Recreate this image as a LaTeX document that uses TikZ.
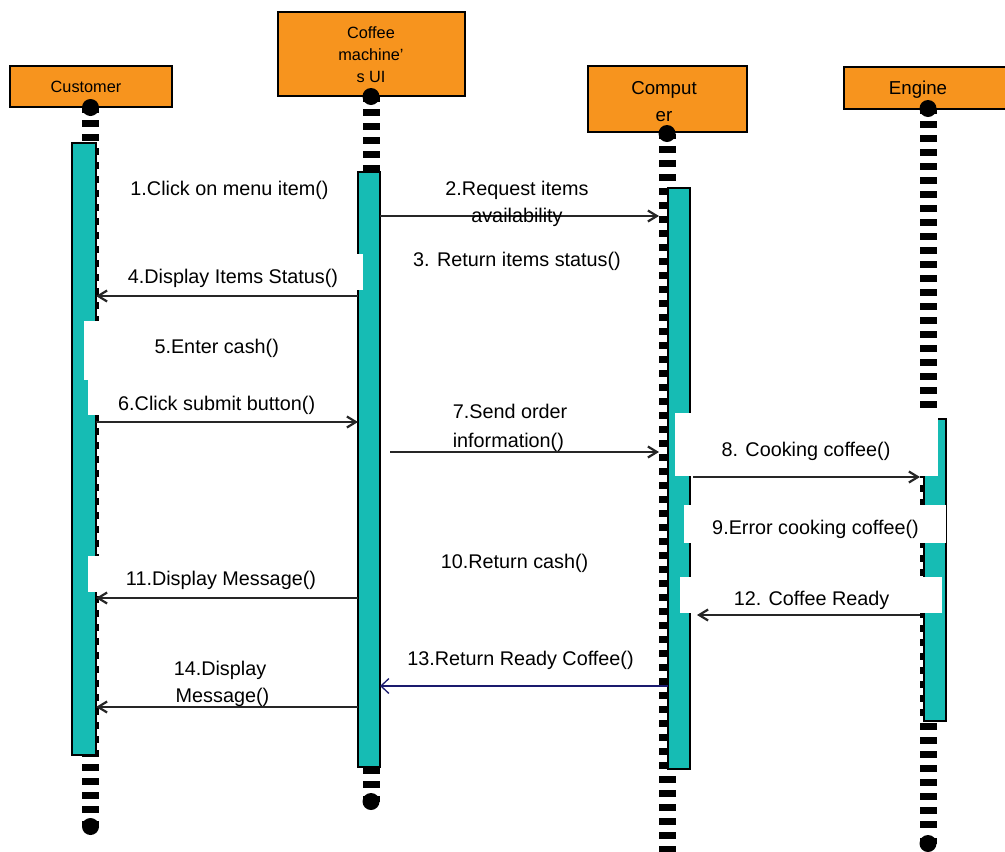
\documentclass[tikz,border=0pt]{standalone}
\usepackage{fontspec}
\setmainfont{Liberation Sans}
\usetikzlibrary{arrows.meta}
\definecolor{hdrc}{RGB}{247,148,30}
\definecolor{actc}{RGB}{22,188,180}
\definecolor{navyc}{RGB}{26,26,110}
\newcommand\lifeln[3]{%
  \fill (#1,#2+8.5) circle[radius=8.5pt];
  \fill (#1-8.5,#2+8.5) rectangle (#1+8.5,#2+14);
  \draw[line width=17pt, dash pattern=on 7pt off 7pt] (#1,#2+21) -- (#1,#3-21);
  \fill (#1,#3-8.5) circle[radius=8.5pt];
  \fill (#1-8.5,#3-14) rectangle (#1+8.5,#3-8.5);
}
\tikzset{
  hdrbox/.style={draw=black, line width=1.3pt, fill=hdrc, inner sep=0pt, outer sep=0pt},
  actbar/.style={draw=black, line width=1.1pt, fill=actc, inner sep=0pt, outer sep=0pt, minimum width=22pt},
  msgtxt/.style={font=\fontsize{19.8}{27}\selectfont, inner sep=0pt, anchor=base},
  hdrsmall/.style={font=\fontsize{16.3}{22}\selectfont, inner sep=0pt, anchor=base},
  hdrbig/.style={font=\fontsize{18.7}{26}\selectfont, inner sep=0pt, anchor=base},
  msg/.style={draw=black!85, line width=1.1pt, -{Straight Barb[length=9pt,width=11pt,line width=2.2pt 0]}},
  retmsg/.style={draw=navyc, line width=1.3pt, -{Straight Barb[length=8pt,width=15pt,line width=1.3pt 0]}},
  cover/.style={fill=white}
}
\begin{document}
\begin{tikzpicture}[x=1pt,y=-1pt]
\useasboundingbox (0,0) rectangle (1005,852);
\begin{scope}
\clip (0,0) rectangle (1005,852);
% header boxes
\node[hdrbox, minimum width=162pt, minimum height=41pt] (custH) at (91,86.5) {};
\node[hdrbox, minimum width=187pt, minimum height=84pt] (uiH) at (371.5,54) {};
\node[hdrbox, minimum width=159pt, minimum height=66pt] (compH) at (667.5,99) {};
\node[hdrbox, minimum width=175pt, minimum height=42pt] (engH) at (931.5,88) {};
\node[hdrsmall] (custT) at (86,92.5) {Customer};
\node[hdrsmall] (uiT1) at (371,38) {Coffee};
\node[hdrsmall] (uiT2) at (371,60) {machine\char39};
\node[hdrsmall] (uiT3) at (371,82) {s UI};
\node[hdrbig] (compT1) at (664,94.7) {Comput};
\node[hdrbig] (compT2) at (664,121.7) {er};
\node[hdrbig] (engT) at (918,94.7) {Engine};
% lifelines
\lifeln{90.5}{99}{835}
\lifeln{371}{88}{810}
\lifeln{667}{125}{880}
\lifeln{928}{100}{852}
% activation bars
\node[actbar, minimum width=24pt, minimum height=612pt] (custA) at (84,449) {};
\node[actbar, minimum height=595pt] (uiA) at (369,469.5) {};
\node[actbar, minimum height=581pt] (compA) at (679,478.5) {};
\node[actbar, minimum height=302pt] (engA) at (935,570) {};
\coordinate (compL) at (659,0);
\coordinate (engL) at (920,0);
% label covers
\fill[cover] (110,254) rectangle (363,290);
\fill[cover] (84,321) rectangle (340,380);
\fill[cover] (88,380) rectangle (340,415);
\fill[cover] (675,413) rectangle (938,476);
\fill[cover] (684,505) rectangle (946,543);
\fill[cover] (88,556) rectangle (340,592);
\fill[cover] (680,577) rectangle (942,613);
% messages
\draw[msg] (uiA.east |- 0,216) -- (compL |- 0,216);
\draw[msg] (uiA.west |- 0,296) -- (custA.east |- 0,296);
\draw[msg] (custA.east |- 0,422) -- (uiA.west |- 0,422);
\draw[msg] ([xshift=10pt]uiA.east |- 0,452) -- (compL |- 0,452);
\draw[msg] ([xshift=3pt]compA.east |- 0,477) -- (engL |- 0,477);
\draw[msg] (uiA.west |- 0,598) -- (custA.east |- 0,598);
\draw[msg] (engL |- 0,615) -- ([xshift=7pt]compA.east |- 0,615);
\draw[retmsg] (compA.west |- 0,686) -- (uiA.east |- 0,686);
\draw[msg] (uiA.west |- 0,707) -- (custA.east |- 0,707);
% labels
\node[msgtxt] (l1) at (229.5,195) {1.Click on menu item()};
\node[msgtxt] (l2a) at (517,195) {2.Request items};
\node[msgtxt] (l2b) at (517,222) {availability};
\node[msgtxt] (l3) at (517,266) {3. Return items status()};
\node[msgtxt] (l4) at (233,283) {4.Display Items Status()};
\node[msgtxt] (l5) at (216.7,353.5) {5.Enter cash()};
\node[msgtxt] (l6) at (216.7,410) {6.Click submit button()};
\node[msgtxt, anchor=base west] (l7a) at (452.6,418.5) {7.Send order};
\node[msgtxt, anchor=base west] (l7b) at (452.6,447) {information()};
\node[msgtxt] (l8) at (806,456) {8. Cooking coffee()};
\node[msgtxt] (l9) at (815.5,534) {9.Error cooking coffee()};
\node[msgtxt] (l10) at (514.6,568) {10.Return cash()};
\node[msgtxt] (l11) at (221,585.5) {11.Display Message()};
\node[msgtxt] (l12) at (811.6,605) {12. Coffee Ready};
\node[msgtxt] (l13) at (520.5,665) {13.Return Ready Coffee()};
\node[msgtxt] (l14a) at (220,675) {14.Display};
\node[msgtxt] (l14b) at (222.5,702) {Message()};
\end{scope}
\end{tikzpicture}
\end{document}
